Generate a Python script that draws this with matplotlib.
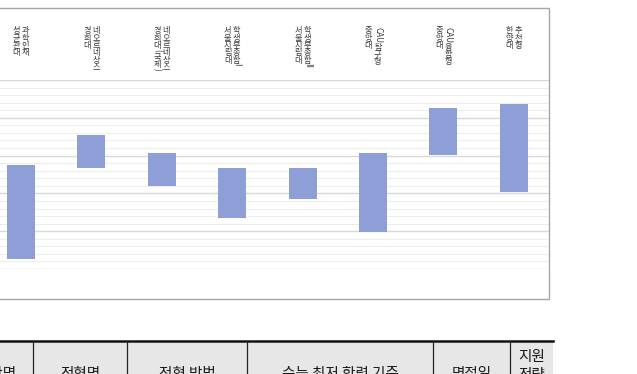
import numpy as np
import matplotlib
matplotlib.use("Agg")
import matplotlib.pyplot as plt
from matplotlib.transforms import blended_transform_factory
from matplotlib.patches import Rectangle
from matplotlib.lines import Line2D

plt.rcParams['font.family'] = ['Noto Sans CJK KR', 'DejaVu Sans']

# 전형별 합격 등급 범위 (위쪽 = 높은 등급)
labels = [("과학인재", "성균관대"), ("네오르네상스", "경희대"), ("네오르네상스", "경희대(국제)"),
          ("학생부종합I", "서울시립대"), ("학생부종합II", "서울시립대"),
          ("CAU탐구형", "중앙대"), ("CAU융합형", "중앙대"), ("추천형", "한양대")]
grade_top = [2.12, 1.73, 1.97, 2.16, 2.16, 1.97, 1.37, 1.32]
grade_bottom = [3.37, 2.16, 2.40, 2.83, 2.57, 3.01, 1.99, 2.48]

header = ["대학명", "전형명", "전형 방법", "수능 최저 학력 기준", "면접일", "지원\n전략"]
col_edges = [-40, 33, 127, 247, 433, 510, 553]

W, H = 637, 374
fig = plt.figure(figsize=(W / 100, H / 100), dpi=100)

def px(x0, y0, x1, y1):
    # 픽셀 좌표(왼쪽 위 기준) -> figure 비율
    return [x0 / W, 1 - y1 / H, (x1 - x0) / W, (y1 - y0) / H]

def runs(s):
    # 한글 / 라틴 문자 묶음으로 나누기
    out = []
    for ch in s:
        latin = ord(ch) < 0x1100
        if out and out[-1][1] == latin:
            out[-1][0] += ch
        else:
            out.append([ch, latin])
    return out

# 차트 테두리
fig.patches.append(Rectangle((-20 / W, 1 - 299 / H), 569 / W, 291 / H, transform=fig.transFigure,
                             fill=False, edgecolor='#a6a6a6', linewidth=1.0))

n = len(labels)
x = np.arange(n)
ax = fig.add_axes(px(549 - 70.4 * n, 80, 549, 269))
ax.bar(x, np.array(grade_bottom) - np.array(grade_top), bottom=grade_top, width=0.4,
       color='#8e9fd8', zorder=3)
ax.set_xlim(-0.5, n - 0.5)
ax.set_ylim(3.5, 1.0)
ax.set_yticks(np.arange(1.0, 3.51, 0.5))
ax.set_yticks(np.arange(1.0, 3.51, 0.1), minor=True)
ax.grid(axis='y', which='major', color='#d9d9d9', linewidth=1.0)
ax.grid(axis='y', which='minor', color='#ededed', linewidth=0.8)
ax.tick_params(left=False, bottom=False, labelleft=False, labelbottom=False, which='both')
for s in ax.spines.values():
    s.set_visible(False)
ax.set_facecolor('none')

# 세로쓰기 라벨
tr = blended_transform_factory(ax.transData, fig.transFigure)
fs = 5.9
step = 7.3
latin_w = {'(': 2.6, ')': 2.6, 'I': 2.2}
for i, (l1, l2) in enumerate(labels):
    for line, dx in ((l1, 0.065), (l2, -0.065)):
        y = 26.5
        for txt, latin in runs(line):
            if latin:
                ax.text(i + dx, 1 - (y + 0.3) / H, txt, transform=tr, fontsize=fs, color='#3a3a3a',
                        ha='center', va='top', rotation=-90)
                y += sum(latin_w.get(c, 4.9) for c in txt) + 1.6
            else:
                ax.text(i + dx, 1 - y / H, "\n".join(txt), transform=tr, fontsize=fs,
                        color='#3a3a3a', ha='center', va='top', linespacing=0.76)
                y += step * len(txt)

# 아래 표 머리
fig.patches.append(Rectangle((0, 0), 553 / W, 1 - 341 / H, transform=fig.transFigure,
                             facecolor='#e7e7e7', edgecolor='none'))
fig.lines.append(Line2D([0, 553 / W], [1 - 341 / H] * 2, transform=fig.transFigure,
                        color='#111111', linewidth=1.8))
for xe in col_edges[1:-1]:
    fig.lines.append(Line2D([xe / W] * 2, [0, 1 - 341 / H], transform=fig.transFigure,
                            color='#222222', linewidth=0.9))
for j, t in enumerate(header):
    cx = (col_edges[j] + col_edges[j + 1]) / 2
    cy = 366 if "\n" in t else 374
    fig.text(cx / W, 1 - cy / H, t, fontsize=10.5, color='#1a1a1a', ha='center', va='center',
             linespacing=1.45)

fig.savefig("out.png", dpi=100)
